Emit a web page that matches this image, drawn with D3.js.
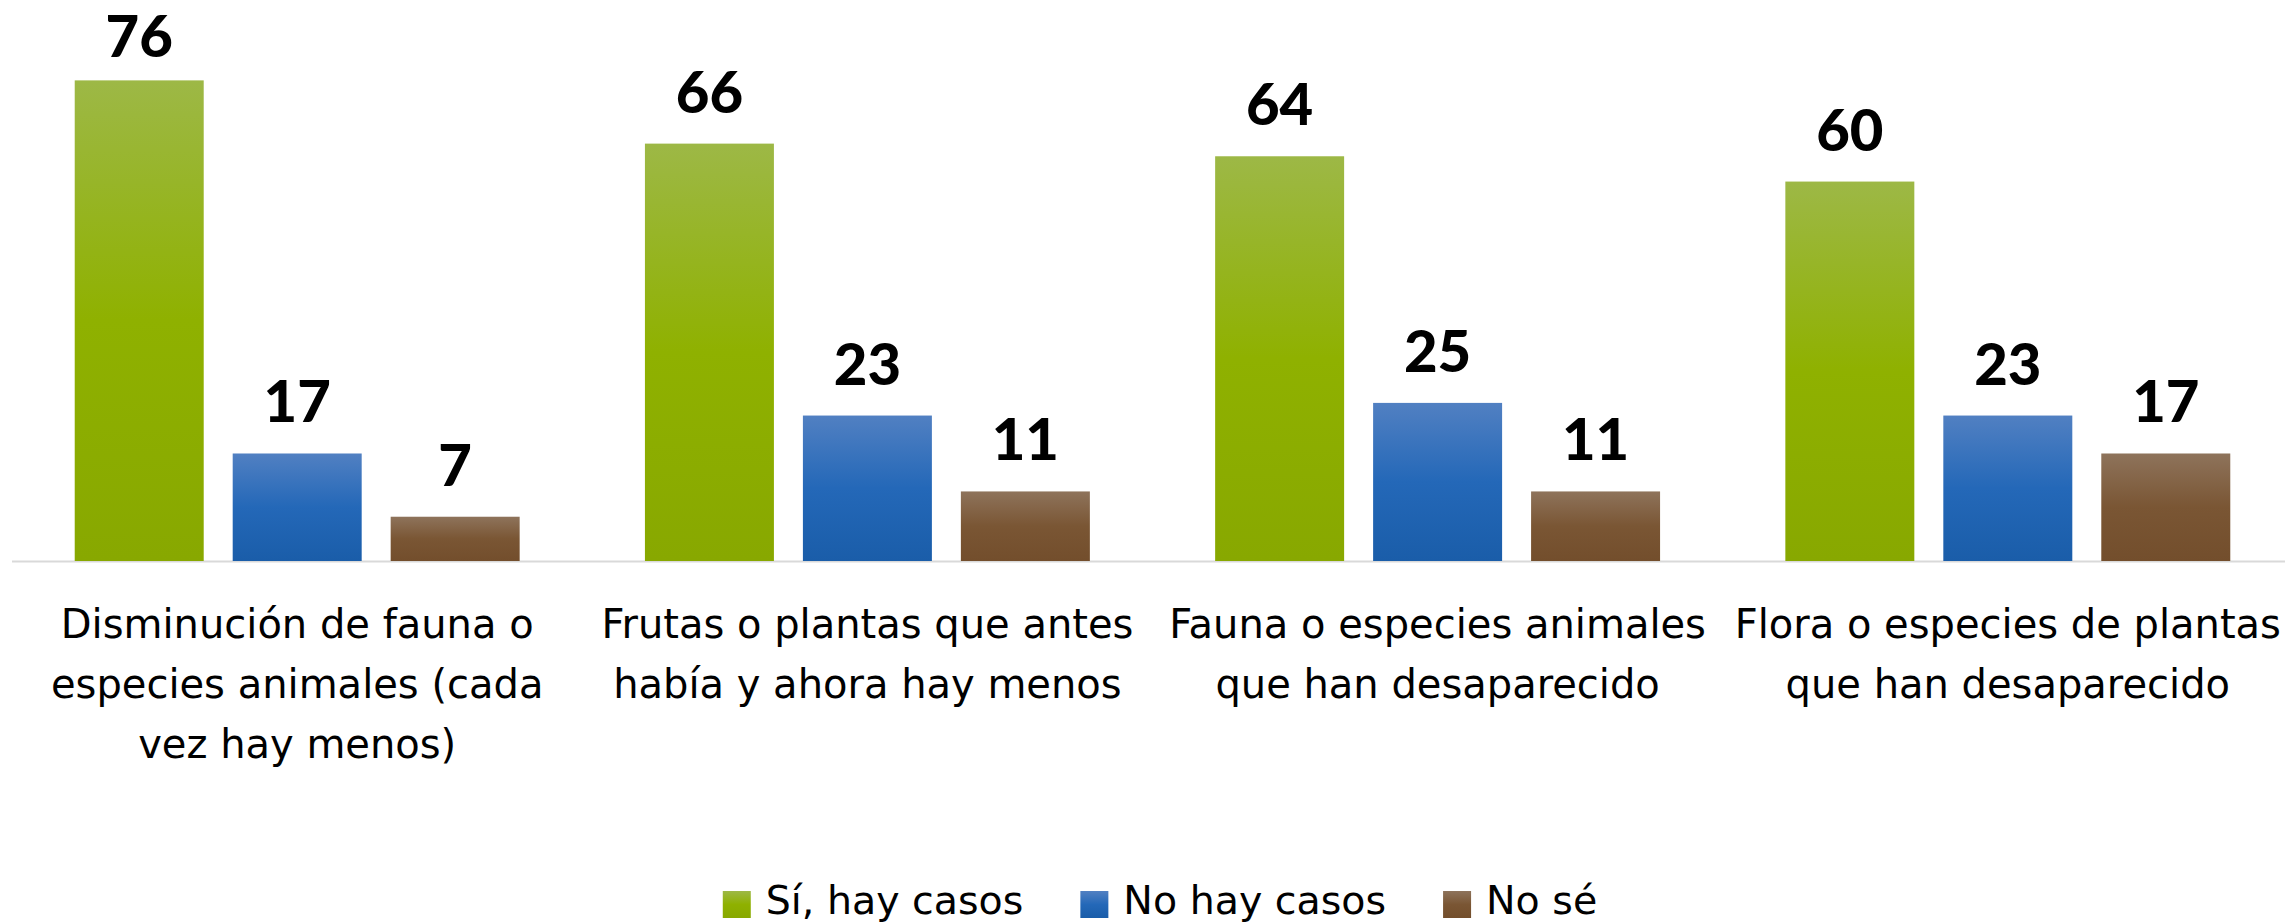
<!DOCTYPE html>
<html>
<head>
<meta charset="utf-8">
<script src="https://cdn.jsdelivr.net/npm/d3@7"></script>
<style>
  html, body { margin: 0; padding: 0; background: #fff; }
  svg { display: block; }
</style>
</head>
<body>
<script>
// datos
var categories = [
  "Disminución de fauna o especies animales (cada vez hay menos)",
  "Frutas o plantas que antes había y ahora hay menos",
  "Fauna o especies animales que han desaparecido",
  "Flora o especies de plantas que han desaparecido"
];
// cortes de linea como en el original
var categoryLines = [
  ["Disminución de fauna o", "especies animales (cada", "vez hay menos)"],
  ["Frutas o plantas que antes", "había y ahora hay menos"],
  ["Fauna o especies animales", "que han desaparecido"],
  ["Flora o especies de plantas", "que han desaparecido"]
];
var seriesNames = ["Sí, hay casos", "No hay casos", "No sé"];
var siValues = [76, 66, 64, 60];
var noValues = [17, 23, 25, 23];
var nsValues = [7, 11, 11, 17];

var W = 2285, H = 924;
var baseY = 561;

var svg = d3.select("body").append("svg")
  .attr("width", W)
  .attr("height", H)
  .attr("viewBox", "0 0 " + W + " " + H);

// degradados tipo Excel
var grads = [
  { id: "gSi", stops: ["#9db846", "#8fb100", "#88a800"] },
  { id: "gNo", stops: ["#5180c2", "#2468b8", "#1a5da9"] },
  { id: "gNs", stops: ["#8e735b", "#7a5634", "#734e2c"] }
];
var defs = svg.append("defs");
grads.forEach(function (g) {
  var lg = defs.append("linearGradient")
    .attr("id", g.id)
    .attr("x1", 0).attr("y1", 0).attr("x2", 0).attr("y2", 1);
  lg.append("stop").attr("offset", "0%").attr("stop-color", g.stops[0]);
  lg.append("stop").attr("offset", "50%").attr("stop-color", g.stops[1]);
  lg.append("stop").attr("offset", "100%").attr("stop-color", g.stops[2]);
});

var series = [siValues, noValues, nsValues];

var x0 = d3.scaleBand()
  .domain(d3.range(categories.length))
  .range([12, 2293])
  .paddingInner(0.2197)
  .paddingOuter(0.11);

var x1 = d3.scaleBand()
  .domain(d3.range(series.length))
  .range([0, x0.bandwidth()])
  .paddingInner(0.1835);

var y = d3.scaleLinear()
  .domain([0, 80])
  .range([baseY, baseY - 80 * 6.324]);

// eje horizontal
svg.append("line")
  .attr("x1", 12).attr("x2", W)
  .attr("y1", baseY + 0.5).attr("y2", baseY + 0.5)
  .attr("stroke", "#d9d9d9")
  .attr("stroke-width", 2);

var rows = [];
categories.forEach(function (c, i) {
  series.forEach(function (s, j) {
    rows.push({ cat: i, ser: j, v: s[i] });
  });
});

svg.append("g").selectAll("rect")
  .data(rows)
  .join("rect")
  .attr("x", function (d) { return x0(d.cat) + x1(d.ser); })
  .attr("y", function (d) { return y(d.v); })
  .attr("width", x1.bandwidth())
  .attr("height", function (d) { return baseY - y(d.v); })
  .attr("fill", function (d) { return "url(#" + grads[d.ser].id + ")"; });

// etiquetas de valor
svg.append("g").selectAll("text")
  .data(rows)
  .join("text")
  .attr("x", function (d) { return x0(d.cat) + x1(d.ser) + x1.bandwidth() / 2; })
  .attr("y", function (d) { return Math.max(y(d.v) - 31, 57); })
  .attr("text-anchor", "middle")
  .attr("font-family", "Lato, Roboto, sans-serif")
  .attr("font-weight", 900)
  .attr("font-size", 58)
  .attr("fill", "#000")
  .text(function (d) { return d.v; });

// etiquetas de categoria
var catG = svg.append("g").selectAll("text")
  .data(categoryLines)
  .join("text")
  .attr("text-anchor", "middle")
  .attr("font-family", "'DejaVu Sans', sans-serif")
  .attr("font-size", 40)
  .attr("fill", "#000");

catG.each(function (lines, i) {
  var cx = x0(i) + x0.bandwidth() / 2;
  d3.select(this).selectAll("tspan")
    .data(lines)
    .join("tspan")
    .attr("x", cx)
    .attr("y", function (d, k) { return 638 + k * 60; })
    .text(function (d) { return d; });
});

// leyenda
var legend = svg.append("g");
var lx = 0;
seriesNames.forEach(function (name, j) {
  var item = legend.append("g").attr("transform", "translate(" + lx + ",0)");
  item.append("rect")
    .attr("x", 0).attr("y", 891)
    .attr("width", 28).attr("height", 27)
    .attr("fill", "url(#" + grads[j].id + ")");
  var t = item.append("text")
    .attr("x", 43).attr("y", 914)
    .attr("font-family", "'DejaVu Sans', sans-serif")
    .attr("font-size", 39.5)
    .attr("fill", "#000")
    .text(name);
  lx += 43 + t.node().getComputedTextLength() + 57;
});
var legW = lx - 57;
legend.attr("transform", "translate(" + (1160 - legW / 2) + ",0)");
</script>
</body>
</html>
